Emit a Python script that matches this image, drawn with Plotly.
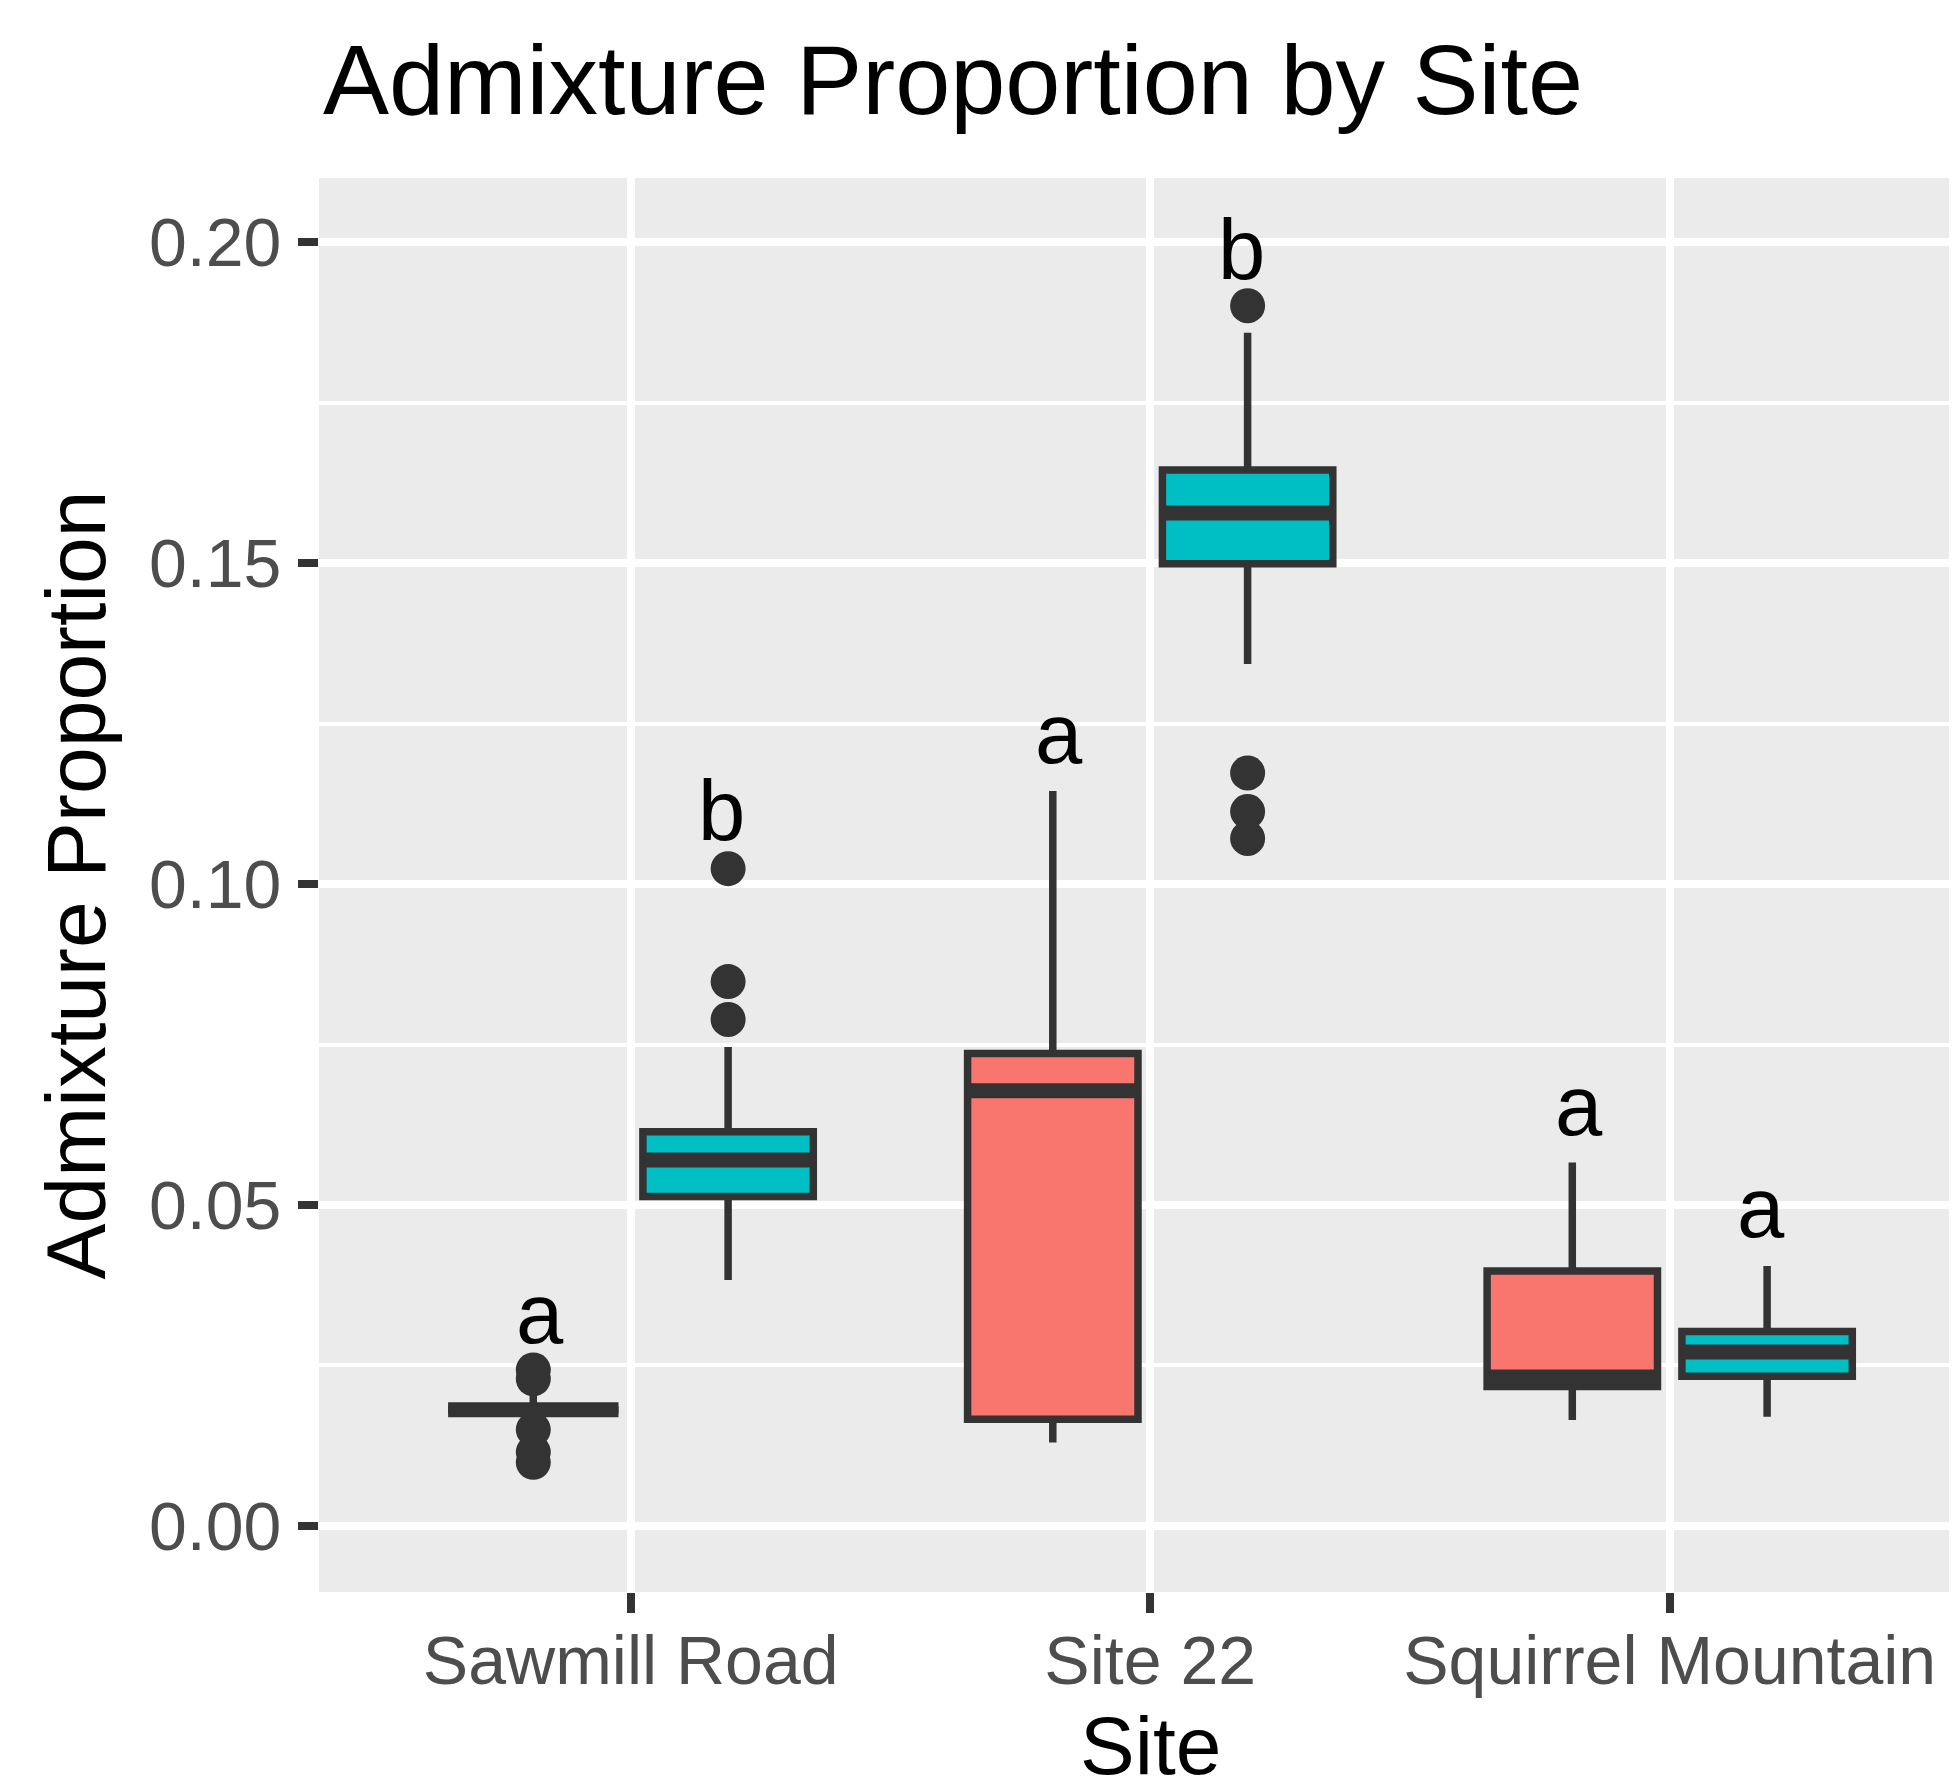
import plotly.graph_objects as go

# ---------------- data ----------------
sites = ["Sawmill Road", "Site 22", "Squirrel Mountain"]

# red group (left box in each site)
red_q1 = [0.0181, 0.0166, 0.0217]
red_med = [0.0181, 0.0678, 0.0232]
red_q3 = [0.0181, 0.0736, 0.0397]
red_lo = [0.0170, 0.0130, 0.0165]
red_hi = [0.0205, 0.1145, 0.0566]
red_out_site = [0, 0, 0, 0, 0]
red_out_val = [0.0243, 0.0229, 0.0150, 0.0115, 0.0099]

# teal group (right box in each site)
teal_q1 = [0.0513, 0.1499, 0.0233]
teal_med = [0.0570, 0.1578, 0.0271]
teal_q3 = [0.0614, 0.1645, 0.0303]
teal_lo = [0.0383, 0.1343, 0.0170]
teal_hi = [0.0746, 0.1859, 0.0405]
teal_out_site = [0, 0, 0, 1, 1, 1, 1]
teal_out_val = [0.1024, 0.0848, 0.0789, 0.1901, 0.1173, 0.1113, 0.1071]

# significance letters
red_letters = ["a", "a", "a"]
red_letter_y = [0.0288, 0.1191, 0.0612]
teal_letters = ["b", "b", "a"]
teal_letter_y = [0.1071, 0.1946, 0.0453]

y_ticks = [0.00, 0.05, 0.10, 0.15, 0.20]

# ---------------- style ----------------
RED = "#F8766D"
TEAL = "#00BFC4"
DARK = "#333333"
FONT = "Liberation Sans, Arial, sans-serif"
DODGE = 0.1875
LABEL_DODGE = 0.175
BOXW = 0.328
LINEW = 7.5
W, H = 1941, 1767   # fits inside the page with the default 8px body margin

fig = go.Figure()

groups = [
    (RED, -1, red_q1, red_med, red_q3, red_lo, red_hi, red_out_site, red_out_val, red_letters, red_letter_y),
    (TEAL, 1, teal_q1, teal_med, teal_q3, teal_lo, teal_hi, teal_out_site, teal_out_val, teal_letters, teal_letter_y),
]

for color, sgn, q1, med, q3, lo, hi, osite, oval, letters, ly in groups:
    xs = [i + sgn * DODGE for i in range(len(sites))]
    fig.add_trace(go.Box(
        x=xs, q1=q1, median=med, q3=q3, lowerfence=lo, upperfence=hi,
        width=BOXW, fillcolor=color, line=dict(color=DARK, width=LINEW),
        whiskerwidth=0, boxpoints=False, showlegend=False, hoverinfo="skip",
    ))

for color, sgn, q1, med, q3, lo, hi, osite, oval, letters, ly in groups:
    xs = [i + sgn * DODGE for i in range(len(sites))]
    # thick median lines
    mx, my = [], []
    for x, m in zip(xs, med):
        mx += [x - BOXW / 2, x + BOXW / 2, None]
        my += [m, m, None]
    fig.add_trace(go.Scatter(x=mx, y=my, mode="lines",
                             line=dict(color=DARK, width=2 * LINEW),
                             showlegend=False, hoverinfo="skip"))
    # outliers
    fig.add_trace(go.Scatter(x=[s + sgn * DODGE for s in osite], y=oval, mode="markers",
                             marker=dict(color=DARK, size=35, line=dict(width=0)),
                             showlegend=False, hoverinfo="skip"))
    # letters
    for i, (lab, yv) in enumerate(zip(letters, ly)):
        fig.add_annotation(x=i + sgn * LABEL_DODGE, y=yv, text=lab, showarrow=False,
                           xanchor="center", yanchor="bottom", yshift=-22,
                           font=dict(family=FONT, size=85, color="black"))

# x-axis title as annotation (precise placement)
fig.add_annotation(x=1, xref="x", y=0, yref="paper", text="Site", showarrow=False,
                   xanchor="center", yanchor="bottom", yshift=-201,
                   font=dict(family=FONT, size=82, color="black"))

fig.update_layout(
    width=W, height=H,
    margin=dict(l=311, r=0, t=170, b=183, autoexpand=False),
    paper_bgcolor="white", plot_bgcolor="#EBEBEB",
    title=dict(text="Admixture Proportion by Site", x=315 / W, xanchor="left",
               xref="container", yref="container", y=1 - 71 / H, yanchor="middle",
               font=dict(family=FONT, size=99, color="black")),
    font=dict(family=FONT),
    showlegend=False,
)

fig.update_xaxes(
    range=[-0.6, -0.6 + (W - 311) / 519.5], tickmode="array",
    tickvals=list(range(len(sites))), ticktext=sites,
    showgrid=True, gridcolor="white", gridwidth=LINEW, zeroline=False, automargin=False,
    ticks="outside", ticklen=20, tickwidth=LINEW, tickcolor=DARK, ticklabelstandoff=-11,
    tickfont=dict(family=FONT, size=68, color="#4D4D4D"),
    showline=False,
)
fig.update_yaxes(
    range=[-0.0103, 0.2100], tickmode="array", tickvals=y_ticks,
    ticktext=[f"{v:.2f}" for v in y_ticks],
    showgrid=True, gridcolor="white", gridwidth=LINEW, zeroline=False, automargin=False,
    minor=dict(tickmode="array", tickvals=[0.025, 0.075, 0.125, 0.175], showgrid=True,
               gridcolor="white", gridwidth=4, ticks=""),
    ticks="outside", ticklen=20, tickwidth=LINEW, tickcolor=DARK, ticklabelstandoff=3,
    tickfont=dict(family=FONT, size=68, color="#4D4D4D"),
    title=dict(text="Admixture Proportion", font=dict(family=FONT, size=84, color="black"), standoff=15),
    showline=False,
)

fig.write_html("out.html")
